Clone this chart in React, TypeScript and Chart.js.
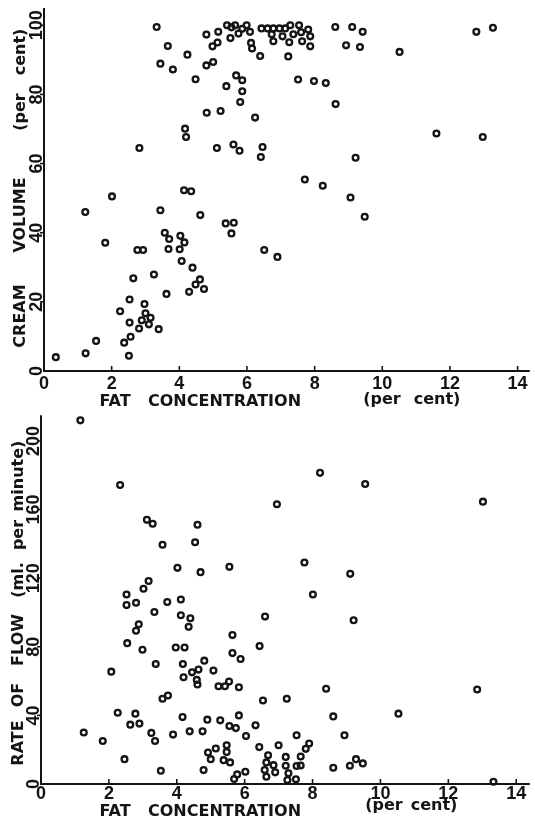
import React, { useEffect, useRef } from "react";
import { Chart, registerables } from "chart.js";

Chart.register(...registerables);

// ---------- data ----------
const fatTicks = [0, 2, 4, 6, 8, 10, 12, 14];
const volumeTicks = [0, 20, 40, 60, 80, 100];
const flowTicks = [0, 40, 80, 120, 160, 200];

const fatTitleWords = ["FAT", "CONCENTRATION", "(per", "cent)"];
const volumeTitleWords = ["CREAM", "VOLUME", "(per", "cent)"];
const flowTitleWords = ["RATE", "OF", "FLOW", "(ml.", "per", "minute)"];

// [fat concentration %, cream volume %]
const creamVolume: [number, number][] = [
  [0.35, 4.0], [1.23, 5.1], [1.54, 8.7], [1.22, 46.0], [1.81, 37.1], [2.01, 50.5],
  [2.25, 17.3], [2.37, 8.2], [2.51, 4.4], [2.56, 9.9], [2.53, 14.0], [2.53, 20.7],
  [2.64, 26.8], [2.76, 35.0], [2.93, 35.0], [2.81, 12.3], [2.89, 14.7], [2.97, 19.4],
  [3.0, 16.7], [3.15, 15.4], [3.1, 13.5], [3.39, 12.1], [3.25, 27.9], [2.82, 64.5],
  [3.44, 46.5], [3.57, 40.0], [3.7, 38.2], [3.68, 35.3], [3.62, 22.3], [4.03, 39.1],
  [4.15, 37.2], [4.01, 35.2], [4.07, 31.8], [4.39, 29.9], [4.29, 22.9], [4.48, 25.0],
  [4.61, 26.5], [4.73, 23.7], [4.62, 45.1], [4.14, 52.3], [4.35, 52.0], [5.37, 42.7],
  [5.61, 42.9], [5.54, 39.8], [6.51, 35.0], [6.9, 33.0], [4.17, 70.1], [4.2, 67.7],
  [5.11, 64.5], [5.6, 65.5], [5.78, 63.7], [6.46, 64.8], [6.41, 61.9], [4.81, 74.7],
  [5.22, 75.2], [6.24, 73.3], [5.8, 77.8], [5.86, 80.9], [5.39, 82.4], [5.68, 85.5],
  [5.86, 84.1], [4.48, 84.4], [3.33, 99.5], [3.66, 94.0], [3.44, 88.9], [3.81, 87.2],
  [4.24, 91.5], [4.8, 97.3], [4.8, 88.4], [5.0, 89.4], [4.98, 93.9], [5.13, 95.0],
  [5.15, 98.1], [5.41, 100.0], [5.51, 96.3], [5.54, 99.4], [5.65, 100.0], [5.75, 97.6],
  [5.86, 99.0], [5.99, 100.0], [6.09, 98.1], [6.12, 94.9], [6.15, 93.3], [6.39, 91.1],
  [6.43, 99.1], [6.61, 99.1], [6.78, 99.1], [6.96, 99.1], [7.13, 99.1], [7.28, 100.0],
  [7.54, 100.0], [7.81, 98.8], [6.73, 97.4], [7.05, 96.8], [7.37, 97.4], [7.6, 98.0],
  [7.87, 96.8], [6.78, 95.4], [7.25, 95.1], [7.63, 95.4], [7.87, 93.9], [7.22, 91.0],
  [8.61, 99.5], [9.11, 99.5], [9.42, 98.1], [8.93, 94.2], [9.34, 93.7], [10.51, 92.3],
  [12.78, 98.1], [13.27, 99.3], [7.51, 84.3], [7.98, 83.9], [8.33, 83.3], [8.62, 77.2],
  [11.6, 68.7], [12.97, 67.7], [9.21, 61.7], [7.71, 55.4], [8.24, 53.6], [9.06, 50.2],
  [9.48, 44.6],
];

// [fat concentration %, rate of flow ml/min]
const flowRate: [number, number][] = [
  [1.16, 212], [2.33, 174.3], [3.12, 154], [3.29, 151.7], [4.61, 151.1], [4.54, 140.9],
  [3.58, 139.5], [4.02, 126], [4.7, 123.5], [5.55, 126.6], [3.17, 118.3], [3.02, 113.8],
  [2.52, 110.5], [2.52, 104.3], [2.8, 105.7], [3.72, 106.1], [4.12, 107.6], [3.34, 100.3],
  [4.12, 98.4], [4.4, 96.6], [4.35, 91.6], [2.88, 93.1], [2.8, 89.3], [2.54, 82.1],
  [2.99, 78.3], [3.97, 79.6], [4.23, 79.6], [4.18, 70.0], [3.38, 70.0], [4.81, 71.9],
  [2.07, 65.5], [4.45, 65.1], [4.64, 66.7], [4.2, 62.2], [4.59, 60.7], [4.61, 58.0],
  [5.08, 66.1], [5.23, 57.0], [5.42, 57.0], [5.54, 59.7], [5.83, 56.4], [5.64, 86.8],
  [5.64, 76.3], [5.88, 72.9], [6.44, 80.4], [6.6, 97.6], [3.58, 49.7], [3.74, 51.6],
  [2.26, 41.5], [2.78, 41.0], [2.63, 34.6], [2.9, 35.2], [1.26, 30.0], [1.82, 25.1],
  [3.25, 29.8], [3.36, 25.1], [3.89, 28.8], [4.17, 39.0], [4.38, 30.7], [4.76, 30.7],
  [4.9, 37.5], [5.28, 37.1], [5.55, 33.8], [5.74, 32.6], [5.83, 40.0], [6.04, 28.0],
  [6.32, 34.2], [6.54, 48.7], [6.43, 21.5], [2.46, 14.5], [3.53, 7.7], [4.79, 8.1],
  [4.92, 18.4], [5.0, 14.5], [5.15, 20.7], [5.47, 22.6], [5.47, 18.7], [5.38, 13.9],
  [5.57, 12.6], [5.69, 2.9], [5.78, 5.6], [6.02, 7.1], [8.22, 181.4], [9.55, 174.9],
  [6.95, 163.1], [13.02, 164.6], [7.76, 129.1], [9.11, 122.5], [8.01, 110.5], [9.21, 95.5],
  [8.4, 55.5], [12.85, 55.1], [7.24, 49.7], [10.53, 41.0], [8.61, 39.4], [8.94, 28.4],
  [7.53, 28.4], [7.9, 23.6], [7.8, 20.5], [7.65, 16.0], [7.0, 22.6], [6.69, 16.8],
  [6.64, 12.6], [6.85, 11.0], [6.59, 8.1], [6.9, 6.8], [6.64, 4.2], [7.21, 15.8],
  [7.21, 10.6], [7.29, 6.2], [7.26, 2.3], [7.51, 2.7], [7.53, 10.5], [7.65, 10.8],
  [8.61, 9.5], [9.1, 10.6], [9.28, 14.5], [9.48, 12.0], [13.33, 1.3],
];

// ---------- styling ----------
const INK = "#141414";
const DIGIT_FONT = "bold 18px 'Liberation Sans', Arial, sans-serif";
const TITLE_FONT = "bold 16px 'DejaVu Sans', sans-serif";

interface Panel {
  top: number;
  width: number;
  height: number;
  axisLeft: number;
  xAxisHeight: number;
  padTop: number;
  xMax: number;
  yMax: number;
  points: [number, number][];
  yTicks: number[];
  xTickBase: number;
  yTickBase: number;
  xWords: string[];
  xWordCenters: number[];
  xWordBases: number[];
  yWords: string[];
  yWordCenters: number[];
  yTitleBase: number;
}

const panels: Panel[] = [
  {
    top: 0,
    width: 535,
    height: 410,
    axisLeft: 44,
    xAxisHeight: 39,
    padTop: 8,
    xMax: 14.36,
    yMax: 105,
    points: creamVolume,
    yTicks: volumeTicks,
    xTickBase: 389,
    yTickBase: 42,
    xWords: fatTitleWords,
    xWordCenters: [115, 224.5, 382, 437],
    xWordBases: [406, 406, 404, 404],
    yWords: volumeTitleWords,
    yWordCenters: [316, 215, 112, 52],
    yTitleBase: 25,
  },
  {
    top: 410,
    width: 535,
    height: 416,
    axisLeft: 41,
    xAxisHeight: 42,
    padTop: 3,
    xMax: 14.4,
    yMax: 215,
    points: flowRate,
    yTicks: flowTicks,
    xTickBase: 389,
    yTickBase: 39,
    xWords: fatTitleWords,
    xWordCenters: [115, 224.5, 384, 434],
    xWordBases: [406, 406, 400, 400],
    yWords: flowTitleWords,
    yWordCenters: [333, 285, 230, 170, 125, 66],
    yTitleBase: 23,
  },
];

function makePaperPlugin(p: Panel) {
  return {
    id: "paperAxes",
    afterDraw(chart: any) {
      const { ctx, chartArea: a } = chart;
      const xs = chart.scales.x;
      const ys = chart.scales.y;
      ctx.save();
      ctx.strokeStyle = INK;
      ctx.fillStyle = INK;
      ctx.lineCap = "butt";

      // axis lines
      ctx.lineWidth = 2;
      ctx.beginPath();
      ctx.moveTo(a.left, a.top);
      ctx.lineTo(a.left, a.bottom);
      ctx.lineTo(a.right, a.bottom);
      ctx.stroke();

      // tick marks
      ctx.lineWidth = 1.6;
      for (const t of fatTicks) {
        if (t === 0) continue;
        const px = xs.getPixelForValue(t);
        ctx.beginPath();
        ctx.moveTo(px, a.bottom);
        ctx.lineTo(px, a.bottom - 5);
        ctx.stroke();
      }
      for (const t of p.yTicks) {
        if (t === 0) continue;
        const py = ys.getPixelForValue(t);
        ctx.beginPath();
        ctx.moveTo(a.left, py);
        ctx.lineTo(a.left - 4, py);
        ctx.stroke();
      }

      // tick labels
      ctx.font = DIGIT_FONT;
      ctx.textAlign = "center";
      ctx.textBaseline = "alphabetic";
      for (const t of fatTicks) {
        ctx.fillText(String(t), xs.getPixelForValue(t), p.xTickBase);
      }
      for (const t of p.yTicks) {
        ctx.save();
        ctx.translate(p.yTickBase, ys.getPixelForValue(t));
        ctx.rotate(-Math.PI / 2);
        ctx.fillText(String(t), 0, 0);
        ctx.restore();
      }

      // axis titles
      ctx.font = TITLE_FONT;
      p.xWords.forEach((w, i) => {
        ctx.fillText(w, p.xWordCenters[i], p.xWordBases[i]);
      });
      p.yWords.forEach((w, i) => {
        ctx.save();
        ctx.translate(p.yTitleBase, p.yWordCenters[i]);
        ctx.rotate(-Math.PI / 2);
        ctx.fillText(w, 0, 0);
        ctx.restore();
      });
      ctx.restore();
    },
  };
}

function PanelChart({ p }: { p: Panel }) {
  const ref = useRef<HTMLCanvasElement | null>(null);
  useEffect(() => {
    if (!ref.current) return;
    const chart = new Chart(ref.current, {
      type: "scatter",
      data: {
        datasets: [
          {
            data: p.points.map(([x, y]) => ({ x, y })),
            pointRadius: 2.9,
            pointHoverRadius: 2.9,
            pointBorderWidth: 2.3,
            pointBorderColor: INK,
            pointBackgroundColor: "rgba(0,0,0,0)",
            showLine: false,
            clip: false as any,
          },
        ],
      },
      options: {
        responsive: false,
        maintainAspectRatio: false,
        animation: false,
        devicePixelRatio: 1,
        events: [],
        layout: { padding: { top: p.padTop, left: 0, right: 0, bottom: 0 } },
        plugins: {
          legend: { display: false },
          tooltip: { enabled: false },
          title: { display: false },
        },
        scales: {
          x: {
            type: "linear",
            min: 0,
            max: p.xMax,
            ticks: { display: false },
            grid: { display: false, drawTicks: false },
            border: { display: false },
            afterFit: (s: any) => {
              s.height = p.xAxisHeight;
            },
          },
          y: {
            type: "linear",
            min: 0,
            max: p.yMax,
            ticks: { display: false },
            grid: { display: false, drawTicks: false },
            border: { display: false },
            afterFit: (s: any) => {
              s.width = p.axisLeft;
            },
          },
        },
      },
      plugins: [makePaperPlugin(p)],
    } as any);
    return () => chart.destroy();
  }, [p]);
  return (
    <canvas
      ref={ref}
      width={p.width}
      height={p.height}
      style={{
        position: "absolute",
        left: 0,
        top: p.top,
        width: p.width,
        height: p.height,
        display: "block",
      }}
    />
  );
}

export default function App() {
  return (
    <div
      style={{
        position: "absolute",
        left: 0,
        top: 0,
        width: 535,
        height: 826,
        background: "#ffffff",
        overflow: "hidden",
      }}
    >
      {panels.map((p, i) => (
        <PanelChart key={i} p={p} />
      ))}
    </div>
  );
}
